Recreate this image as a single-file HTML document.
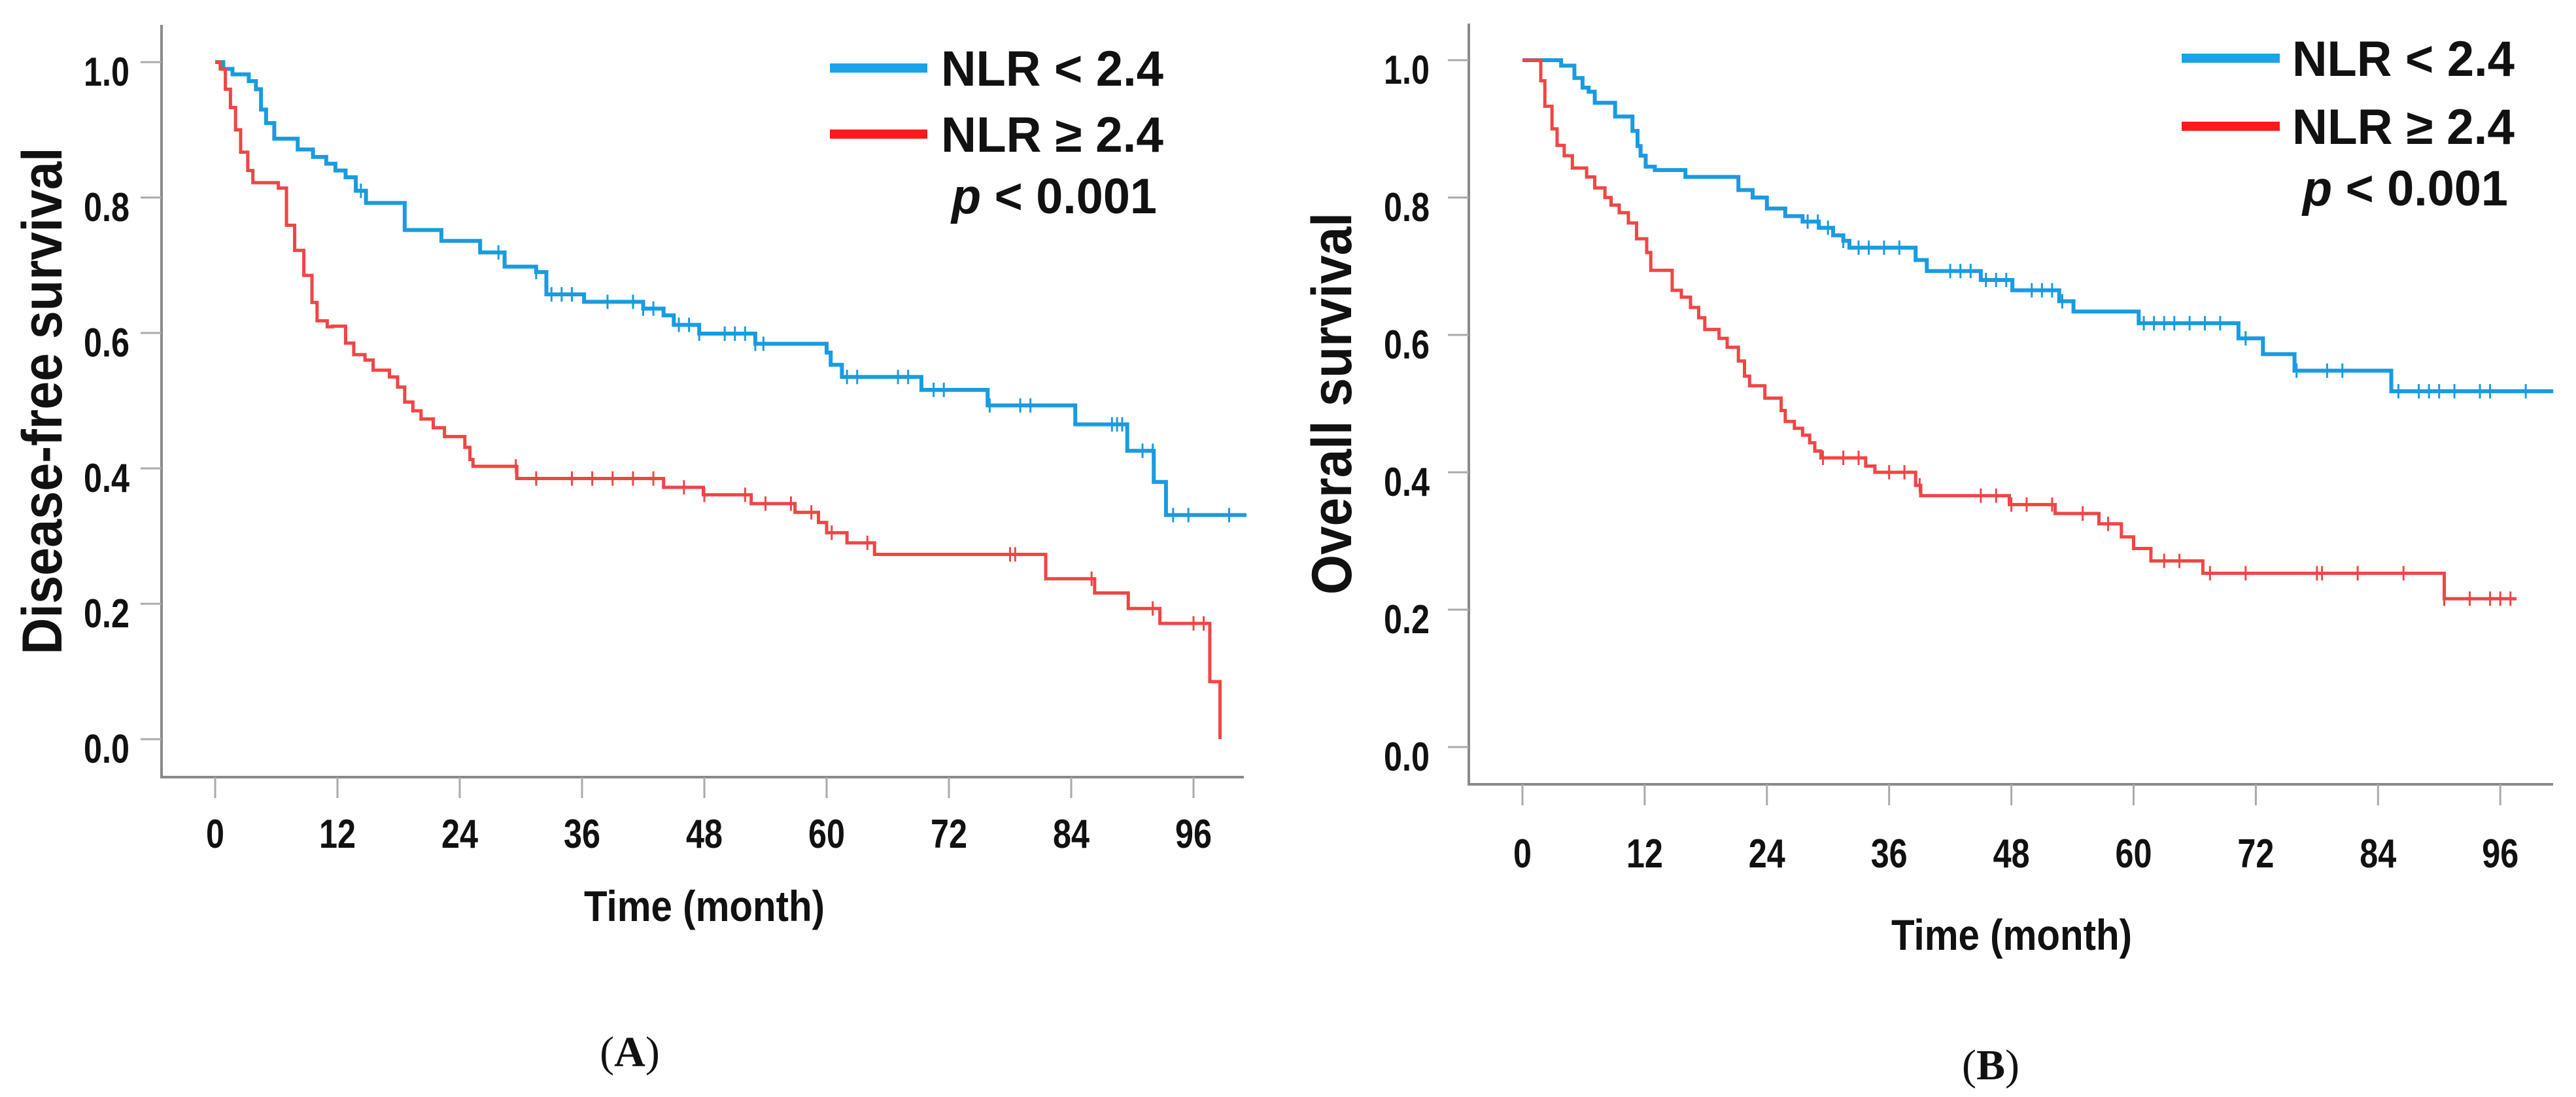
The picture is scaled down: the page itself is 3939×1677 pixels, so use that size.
<!DOCTYPE html>
<html><head><meta charset="utf-8">
<style>
html,body{margin:0;padding:0;background:#fff;}
svg{display:block;}
text{font-family:"Liberation Sans",sans-serif;font-weight:bold;fill:#111;}
</style></head>
<body>
<svg id="chart" width="3939" height="1677" viewBox="0 0 3939 1677" xmlns="http://www.w3.org/2000/svg">
<rect width="3939" height="1677" fill="#fff"/>
<g id="panelA"></g>
<g id="panelB"></g>
</svg>
<script>
// ---- shared axis data ----
const xTicks = [0,12,24,36,48,60,72,84,96];
const yTicks = [0,0.2,0.4,0.6,0.8,1.0];
const yTickLabels = ["0.0","0.2","0.4","0.6","0.8","1.0"];
const seriesNames = ["NLR < 2.4","NLR \u2265 2.4"];

// ---- Panel A: disease-free survival ----
const aLowTimes = [0,0.8,1.7,3.3,4.0,4.5,5.0,5.8,8.1,9.6,10.9,11.8,12.8,13.8,14.8,18.6,22.2,26,28.4,31.5,32.5,36.2,42,44,45,47.5,53,60,60.4,61.5,69.3,75.8,84.4,89.5,92.1,93.3];
const aLowSurv  = [1.0,0.99,0.982,0.972,0.96,0.93,0.91,0.887,0.871,0.86,0.85,0.84,0.83,0.81,0.792,0.752,0.736,0.719,0.698,0.69,0.657,0.646,0.636,0.626,0.612,0.599,0.584,0.571,0.553,0.535,0.516,0.493,0.465,0.426,0.38,0.331];
const aLowEnd = 101.2;
const aLowCensor = [14.3,27.8,31.5,33,34,35,38.5,41,42,43,45.5,46.5,47.5,50,51,52,53,53.8,62,63,67,68,70.5,71.5,76,79,80,88,88.5,89,91,92,94,95.5,99.5];
const aHighTimes = [0,0.5,1,1.5,2,2.5,3.2,3.7,6.2,7,7.8,8.7,9.5,10,11,11.5,12.8,13.6,14.7,15.5,17.1,17.9,18.6,19.4,20.2,21.4,22.5,24.5,25,25.3,29.6,44,47.9,52.6,56.9,59.2,60,62,64.7,81.5,86.3,89.6,92.7,97.6,98.6];
const aHighSurv  = [1.0,0.99,0.96,0.933,0.9,0.867,0.84,0.822,0.814,0.759,0.722,0.685,0.645,0.618,0.609,0.61,0.585,0.568,0.56,0.545,0.535,0.52,0.498,0.485,0.473,0.46,0.447,0.431,0.413,0.403,0.385,0.372,0.361,0.348,0.335,0.32,0.305,0.29,0.273,0.237,0.216,0.193,0.171,0.085,0.0];
const aHighEnd = 98.6;
const aHighCensor = [29.5,31.5,35,37,39,41,43,46,48,52,54,56.5,58.5,60.5,64,78,78.5,86,92,96,97];

// ---- Panel B: overall survival ----
const bLowTimes = [0,3.8,5.1,5.9,6.5,7.1,9.1,10.8,11.3,11.6,12.1,13,16,21.2,22.6,24,25.8,27.5,29.1,30.5,31.5,32.1,38.6,39.7,45,48.1,52.7,54.1,60.5,70.3,72.7,75.8,85.3];
const bLowSurv  = [1.0,0.992,0.974,0.96,0.954,0.938,0.918,0.897,0.875,0.861,0.845,0.84,0.83,0.811,0.80,0.784,0.773,0.765,0.756,0.745,0.737,0.727,0.709,0.693,0.68,0.665,0.649,0.634,0.617,0.595,0.572,0.548,0.518];
const bLowEnd = 101.2;
const bLowCensor = [28,29,30,31.5,33,34,35.5,37,42,43,44,45.5,46.5,47.5,50,51,52,53,61,62,63,64,65.5,67,68.5,71,76,79,80.5,86,88,89,90,91.5,94,95,98.5];
const bHighTimes = [0,1.2,1.8,2.2,2.9,3.4,4.1,4.9,6.3,7.1,8.1,8.7,9.5,10.4,11.2,12.2,12.6,14.7,15.6,16.5,17.3,17.9,19.3,20.1,21.2,21.8,22.3,23.8,25.4,25.8,26.7,27.5,28.2,28.7,29.3,33.7,34.6,38.6,39.1,47.8,52.3,56.6,58.8,60,61.7,66.8,90.5];
const bHighSurv  = [1.0,1.0,0.97,0.933,0.9,0.876,0.861,0.843,0.83,0.814,0.80,0.789,0.778,0.763,0.74,0.72,0.694,0.665,0.655,0.64,0.625,0.608,0.595,0.582,0.562,0.54,0.526,0.508,0.49,0.474,0.464,0.454,0.443,0.431,0.421,0.409,0.40,0.381,0.366,0.353,0.34,0.325,0.306,0.289,0.271,0.253,0.216];
const bHighEnd = 97.6;
const bHighCensor = [29.5,31.5,33,36,37.5,39,45,46.5,48,49.5,52,55,57.5,63,64.5,67.5,71,78,78.5,82,86.5,90.5,93,95,96,97];

const NS = "http://www.w3.org/2000/svg";
function mk(parent, tag, attrs, name, txt){
  const e = document.createElementNS(NS, tag);
  for (const k in attrs) e.setAttribute(k, attrs[k]);
  if (txt !== undefined) e.textContent = txt;
  parent.appendChild(e);
  return e;
}
function stepVal(times, surv, t){
  let v = surv[0];
  for (let i=0;i<times.length;i++){ if (times[i] <= t) v = surv[i]; }
  return v;
}

function drawPanel(g, cfg){
  const X = m => cfg.x0 + (m/12)*cfg.px12;
  const Y = v => cfg.y0 - v*(cfg.y0 - cfg.y1);
  const ya = mk(g,'line',{x1:cfg.ax,y1:cfg.axTop,x2:cfg.ax,y2:cfg.xAxisY,stroke:'#8a8a8a','stroke-width':4});
  
  
  const xa = mk(g,'line',{x1:cfg.ax-2,y1:cfg.xAxisY,x2:cfg.axRight,y2:cfg.xAxisY,stroke:'#8a8a8a','stroke-width':4});
  
  
  yTicks.forEach((v,i)=>{
    const t = mk(g,'line',{x1:cfg.ax-32,y1:Y(v),x2:cfg.ax,y2:Y(v),stroke:'#aaa','stroke-width':3});
    
    
    const l = mk(g,'text',{x:cfg.yLabX,y:Y(v)+36,'text-anchor':'end','font-size':62,textLength:70,lengthAdjust:'spacingAndGlyphs'},null,yTickLabels[i]);
    
    
  });
  xTicks.forEach(m=>{
    const t = mk(g,'line',{x1:X(m),y1:cfg.xAxisY,x2:X(m),y2:cfg.xAxisY+32,stroke:'#aaa','stroke-width':3});
    
    
    const s = String(m);
    const l = mk(g,'text',{x:X(m),y:cfg.xLabY,'text-anchor':'middle','font-size':62,textLength:s.length*28,lengthAdjust:'spacingAndGlyphs'},null,s);
    
    
  });
  const xt = mk(g,'text',{x:cfg.xTitleX,y:cfg.xTitleY,'text-anchor':'middle','font-size':66,textLength:368,lengthAdjust:'spacingAndGlyphs'},null,'Time (month)');
  
  
  const yt = mk(g,'text',{x:0,y:0,'text-anchor':'middle','font-size':86,textLength:cfg.yTitleLen,lengthAdjust:'spacingAndGlyphs',transform:`translate(${cfg.yTitleX},${cfg.yTitleY}) rotate(-90)`},null,cfg.yTitle);
  
  

  cfg.series.forEach((s,si)=>{
    let d = `M${X(s.times[0])},${Y(s.surv[0])}`;
    for (let i=1;i<s.times.length;i++){
      d += ` H${X(s.times[i])} V${Y(s.surv[i])}`;
    }
    d += ` H${X(s.end)}`;
    const p = mk(g,'path',{d:d,fill:'none',stroke:s.color,'stroke-width':s.w,'stroke-linejoin':'miter'});
    
    
    s.censor.forEach(c=>{
      const cy = Y(stepVal(s.times,s.surv,c));
      const cm = mk(g,'line',{x1:X(c),y1:cy-11,x2:X(c),y2:cy+11,stroke:s.color,'stroke-width':3});
      
      
    });
  });

  const colors = ['#1aa3e8','#ff1a1a'];
  [0,1].forEach(i=>{
    const ly = cfg.legY[i];
    const ll = mk(g,'line',{x1:cfg.legX1,y1:ly,x2:cfg.legX2,y2:ly,stroke:colors[i],'stroke-width':14});
    
    
    const lt = mk(g,'text',{x:cfg.legTextX,y:ly+27,'font-size':76,textLength:340,lengthAdjust:'spacingAndGlyphs'},null,seriesNames[i]);
    
    
  });
  const pv = mk(g,'text',{x:cfg.pX,y:cfg.pY,'font-size':76,textLength:314,lengthAdjust:'spacingAndGlyphs'});
  
  
  mk(pv,'tspan',{'font-style':'italic'},null,'p');
  mk(pv,'tspan',{},null,' < 0.001');

  const pl = mk(g,'text',{x:cfg.capX,y:cfg.capY,'text-anchor':'middle','font-size':66,style:'font-family:"Liberation Serif",serif;font-weight:normal'});
  
  
  mk(pl,'tspan',{},null,'(');
  mk(pl,'tspan',{style:'font-weight:bold'},null,cfg.cap);
  mk(pl,'tspan',{},null,')');
}

drawPanel(document.getElementById('panelA'),{
  x0:329, px12:187, y0:1130, y1:95, ax:247, axTop:38, xAxisY:1188, axRight:1902,
  yLabX:198, xLabY:1296, xTitleX:1077, xTitleY:1408, yTitle:'Disease-free survival',
  yTitleX:94, yTitleY:613, yTitleLen:775,
  legX1:1269, legX2:1418, legY:[104,205], legTextX:1439, pX:1455, pY:326,
  capX:963, capY:1630, cap:'A',
  series:[
    {times:aLowTimes,surv:aLowSurv,end:aLowEnd,censor:aLowCensor,color:'#1a9be0',w:6},
    {times:aHighTimes,surv:aHighSurv,end:aHighEnd,censor:aHighCensor,color:'#f04545',w:5}
  ]
});
drawPanel(document.getElementById('panelB'),{
  x0:2328, px12:186.9, y0:1142, y1:92, ax:2246, axTop:36, xAxisY:1199, axRight:3904,
  yLabX:2186, xLabY:1326, xTitleX:3076, xTitleY:1452, yTitle:'Overall survival',
  yTitleX:2066, yTitleY:617, yTitleLen:584,
  legX1:3336, legX2:3486, legY:[89,193], legTextX:3505, pX:3521, pY:314,
  capX:3044, capY:1650, cap:'B',
  series:[
    {times:bLowTimes,surv:bLowSurv,end:bLowEnd,censor:bLowCensor,color:'#1a9be0',w:6},
    {times:bHighTimes,surv:bHighSurv,end:bHighEnd,censor:bHighCensor,color:'#f04545',w:5}
  ]
});
</script>
</body></html>
